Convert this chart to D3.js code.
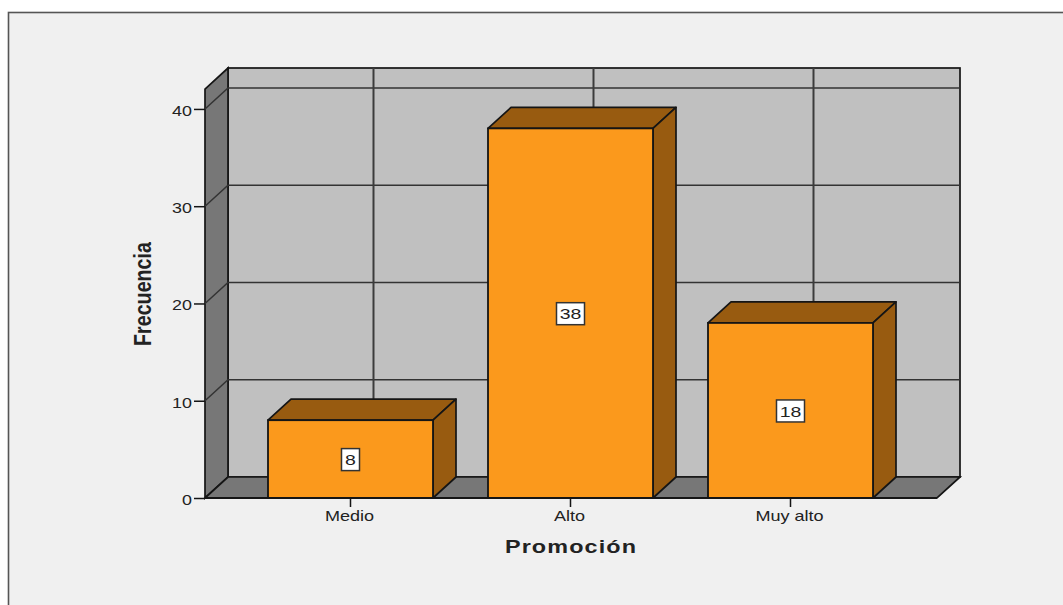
<!DOCTYPE html>
<html><head><meta charset="utf-8">
<script src="https://cdn.jsdelivr.net/npm/d3@7"></script>
<style>html,body{margin:0;padding:0;background:#fff;overflow:hidden}svg{display:block}text{font-family:"Liberation Sans",Arial,sans-serif;fill:#222}</style>
</head><body><svg id="c" width="1063" height="605"></svg>
<script>
const categories = ["Medio","Alto","Muy alto"];
const values = [8,38,18];
const yTicks = [0,10,20,30,40];
const xTitle = "Promoción";
const yTitle = "Frecuencia";

const svg = d3.select("#c");
const dx = 23, dy = -21;
const y = d3.scaleLinear().domain([0,42.05]).range([498,89]);
const x = d3.scaleBand().domain(categories).range([240.5,900.5]).paddingInner(0.25).paddingOuter(0.125);
const L = 205, R = 937;
const line = "#151515", grid = "#333";
const pts = a => a.map(p=>p.join(",")).join(" ");

svg.append("rect").attr("x",8.5).attr("y",12.5).attr("width",1070).attr("height",610)
  .attr("fill","#f0f0f0").attr("stroke","#555").attr("stroke-width",1.6);

const g = svg.append("g");
g.append("rect").attr("x",L+dx).attr("y",y(42.05)+dy).attr("width",R-L).attr("height",y(0)-y(42.05))
  .attr("fill","#c0c0c0").attr("stroke",line).attr("stroke-width",1.7);
g.append("polygon").attr("points",pts([[L,y(0)],[L,y(42.05)],[L+dx,y(42.05)+dy],[L+dx,y(0)+dy]]))
  .attr("fill","#777").attr("stroke",line).attr("stroke-width",1.7);
g.append("polygon").attr("points",pts([[L,y(0)],[R,y(0)],[R+dx,y(0)+dy],[L+dx,y(0)+dy]]))
  .attr("fill","#777").attr("stroke",line).attr("stroke-width",1.7);

yTicks.filter(t=>t>0).forEach(t=>{
  g.append("polyline").attr("points",pts([[L,y(t)],[L+dx,y(t)+dy],[R+dx,y(t)+dy]]))
   .attr("fill","none").attr("stroke",grid).attr("stroke-width",1.5);
});
categories.forEach(c=>{
  const cx = x(c)+x.bandwidth()/2+dx;
  g.append("line").attr("x1",cx).attr("x2",cx).attr("y1",y(42.05)+dy).attr("y2",y(0)+dy)
   .attr("stroke","#3c3c3c").attr("stroke-width",2);
});

const yAxis = g.append("g").attr("transform",`translate(${L},0)`).call(d3.axisLeft(y).tickValues(yTicks).tickSize(11).tickPadding(0).tickFormat(d3.format("d")));
yAxis.select(".domain").remove();
yAxis.selectAll("line").attr("stroke",line).attr("stroke-width",1.5);
yAxis.selectAll("text").attr("font-size",14).attr("x",0).attr("dy","0.42em")
  .attr("transform","translate(-13,0.5) scale(1.28,1)");

const bars = g.selectAll("g.bar").data(categories.map((c,i)=>({c,v:values[i]}))).join("g").attr("class","bar");
const orange="#fb991c", brown="#985b10";
bars.append("polygon").attr("points",d=>{const a=x(d.c),b=a+x.bandwidth(),t=y(d.v);return pts([[a,t],[b,t],[b+dx,t+dy],[a+dx,t+dy]]);})
  .attr("fill",brown).attr("stroke",line).attr("stroke-width",1.7).attr("stroke-linejoin","round");
bars.append("polygon").attr("points",d=>{const b=x(d.c)+x.bandwidth(),t=y(d.v);return pts([[b,t],[b,y(0)],[b+dx,y(0)+dy],[b+dx,t+dy]]);})
  .attr("fill",brown).attr("stroke",line).attr("stroke-width",1.7).attr("stroke-linejoin","round");
bars.append("rect").attr("x",d=>x(d.c)).attr("y",d=>y(d.v)).attr("width",x.bandwidth()).attr("height",d=>y(0)-y(d.v))
  .attr("fill",orange).attr("stroke",line).attr("stroke-width",1.8);

g.append("line").attr("x1",L).attr("x2",R).attr("y1",y(0)).attr("y2",y(0)).attr("stroke",line).attr("stroke-width",1.8);

bars.each(function(d){
  const s=d3.select(this), cx=x(d.c)+x.bandwidth()/2, cy=(y(d.v)+y(0))/2+0.5;
  const w=String(d.v).length>1?28:18;
  s.append("rect").attr("x",cx-w/2).attr("y",cy-11).attr("width",w).attr("height",22)
    .attr("fill","#fff").attr("stroke","#333").attr("stroke-width",1.5);
  s.append("text").attr("dy","0.37em").attr("text-anchor","middle").attr("font-size",15)
    .attr("transform",`translate(${cx},${cy}) scale(1.3,1)`).text(d.v);
});

const xAxis = g.append("g").attr("transform",`translate(0,${y(0)})`).call(d3.axisBottom(x).tickSize(9).tickPadding(4).tickFormat(d=>d));
xAxis.select(".domain").remove();
xAxis.selectAll("line").attr("stroke",line).attr("stroke-width",1.5);
xAxis.selectAll("text").attr("font-size",14).attr("y",0)
  .attr("transform","translate(-1,13.5) scale(1.29,1)");

svg.append("text").attr("transform","translate(571,553) scale(1.3,1)").attr("text-anchor","middle")
  .attr("font-size",18).attr("font-weight","bold").attr("letter-spacing",0.85).text(xTitle);
svg.append("text").attr("transform","translate(151,294) rotate(-90) scale(0.82,1)").attr("text-anchor","middle")
  .attr("font-size",24).attr("font-weight","bold").text(yTitle);
</script></body></html>
